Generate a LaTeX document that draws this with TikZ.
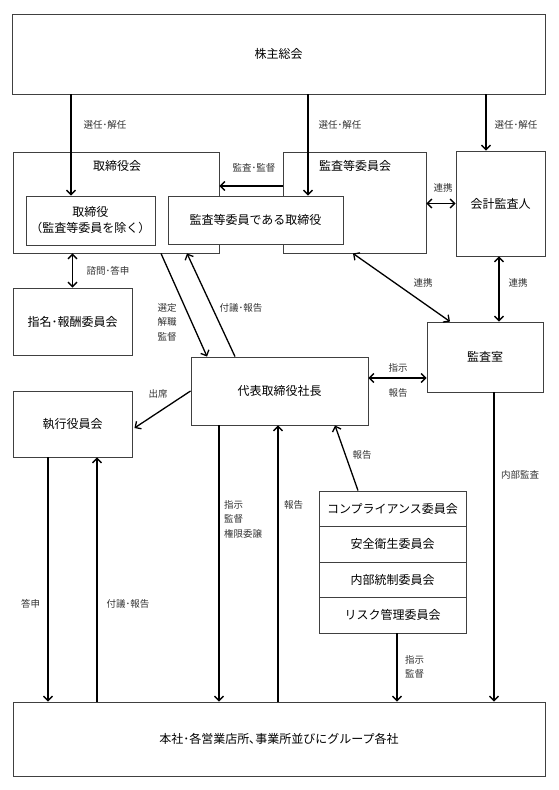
\documentclass[tikz,border=0pt]{standalone}
\usepackage{fontspec}
\setmainfont{Noto Sans CJK JP}
\usetikzlibrary{arrows.meta,calc}
\begin{document}
\begin{tikzpicture}[x=1pt,y=-1pt,
  box/.style={draw=black!75,line width=0.9pt,fill=white,inner sep=0pt,font=\fontsize{12}{16}\selectfont,align=center},
  ttl/.style={inner sep=0pt,font=\fontsize{12}{16}\selectfont},
  lbl/.style={inner sep=0pt,text=black!80,font=\fontsize{9.5}{14.5}\selectfont},
  arr/.style={line width=1.3pt,-{Straight Barb[length=4.5pt,width=9pt]}},
  darr/.style={line width=1.3pt,{Straight Barb[length=4.5pt,width=9pt]}-{Straight Barb[length=4.5pt,width=9pt]}},
  ln/.style={line width=1.3pt}]
\useasboundingbox (0,0) rectangle (558,790);
% boxes
\node[box,minimum width=533,minimum height=80] (agm) at (278.5,54) {株主総会};
\node[box,minimum width=206,minimum height=101,fill=none] (board) at (116,202.5) {};
\node[ttl] (boardlbl) at (117,166) {取締役会};
\node[box,minimum width=143,minimum height=101,fill=none] (acb) at (354.5,202.5) {};
\node[ttl] (acblbl) at (355,166) {監査等委員会};
\node[box,minimum width=129,minimum height=49] (dir) at (90.5,220.5) {取締役\\（監査等委員を除く）};
\node[box,minimum width=175,minimum height=48] (acd) at (255.5,220) {監査等委員である取締役};
\node[box,minimum width=89,minimum height=105] (ext) at (500.5,203.5) {会計監査人};
\node[box,minimum width=119,minimum height=67] (nom) at (72.5,321.5) {指名･報酬委員会};
\node[box,minimum width=177,minimum height=68] (ceo) at (279.5,391) {代表取締役社長};
\node[box,minimum width=116,minimum height=70] (audit) at (485,357) {監査室};
\node[box,minimum width=119,minimum height=66] (exec) at (72.5,424) {執行役員会};
\node[box,minimum width=147,minimum height=35.5] (com1) at (392.5,508.75) {コンプライアンス委員会};
\node[box,minimum width=147,minimum height=35.5] (com2) at (392.5,544.25) {安全衛生委員会};
\node[box,minimum width=147,minimum height=35.5] (com3) at (392.5,579.75) {内部統制委員会};
\node[box,minimum width=147,minimum height=35.5] (com4) at (392.5,615.25) {リスク管理委員会};
\node[box,minimum width=532,minimum height=74] (bot) at (279,739) {本社･各営業店所､事業所並びにグループ各社};
% helper coordinates
\coordinate (p1) at ($(dir.north)+(-19.5,0)$);
\coordinate (p2) at ($(acd.north)+(52.5,0)$);
\coordinate (p3) at ($(ext.north)+(-14.5,0)$);
\coordinate (p4) at ($(acb.west)+(0,-16.5)$);
\coordinate (p5) at ($(board.south)+(45,0)$);
\coordinate (p6) at ($(ceo.north)+(-72.5,0)$);
\coordinate (p7) at ($(ceo.north)+(-44.5,0)$);
\coordinate (p8) at ($(board.south)+(71,0)$);
\coordinate (p9) at ($(acb.south)+(-1.5,0)$);
\coordinate (p10) at ($(audit.north)+(-35,0)$);
\coordinate (p11) at ($(audit.north)+(14,0)$);
\coordinate (p12) at ($(ceo.east)+(0,-13)$);
\coordinate (p13) at ($(exec.east)+(2,4)$);
\coordinate (p14) at ($(exec.south)+(-24.5,0)$);
\coordinate (p15) at ($(exec.south)+(24.5,0)$);
\coordinate (p16) at ($(ceo.south)+(-60.5,0)$);
\coordinate (p17) at ($(ceo.south)+(-1.5,0)$);
\coordinate (p18) at ($(com1.north)+(-34.5,0)$);
\coordinate (p19) at ($(ceo.south)+(55.5,0)$);
\coordinate (p20) at ($(com4.south)+(4.5,0)$);
\coordinate (p21) at ($(audit.south)+(9,0)$);
% connectors
\draw[arr] (agm.south -| p1) -- (p1);
\draw[arr] (agm.south -| p2) -- (p2);
\draw[arr] (agm.south -| p3) -- (p3);
\draw[arr] (p4) -- (p4 -| board.east);
\draw[darr] (acb.east |- ext.west) -- (ext.west);
\draw[darr] (board.south -| nom.north) -- (nom.north);
\draw[arr] (p5) -- (p6);
\draw[arr] (p7) -- (p8);
\draw[darr] (p9) -- (p10);
\draw[darr] (ext.south -| p11) -- (p11);
\draw[darr] (p12) -- (p12 -| audit.west);
\draw[arr] (ceo.west) -- (p13);
\draw[arr] (p14) -- (bot.north -| p14);
\draw[arr] (bot.north -| p15) -- (p15);
\draw[arr] (p16) -- (bot.north -| p16);
\draw[arr] (bot.north -| p17) -- (p17);
\draw[arr] (p18) -- (p19);
\draw[arr] (p20) -- (bot.north -| p20);
\draw[arr] (p21) -- (bot.north -| p21);
% labels
\node[lbl] (l1) at (105,125) {選任･解任};
\node[lbl] (l2) at (340,125) {選任･解任};
\node[lbl] (l3) at (516,125) {選任･解任};
\node[lbl] (l4) at (254,168) {監査･監督};
\node[lbl] (l5) at (443,188) {連携};
\node[lbl] (l6) at (108,271) {諮問･答申};
\node[lbl,align=left] (l7) at (167,322) {選定\\解職\\監督};
\node[lbl] (l8) at (241,308) {付議･報告};
\node[lbl] (l9) at (423,283) {連携};
\node[lbl] (l10) at (518,283) {連携};
\node[lbl] (l11) at (398,368) {指示};
\node[lbl] (l12) at (398,393) {報告};
\node[lbl] (l13) at (158,394) {出席};
\node[lbl] (l14) at (520,475) {内部監査};
\node[lbl] (l15) at (362,455) {報告};
\node[lbl,align=left,anchor=west] (l16) at (224,519) {指示\\監督\\権限委譲};
\node[lbl,anchor=west] (l17) at (284,505) {報告};
\node[lbl] (l18) at (30.5,604) {答申};
\node[lbl] (l19) at (128,604) {付議･報告};
\node[lbl,align=left,anchor=west] (l20) at (405,667) {指示\\監督};
\end{tikzpicture}
\end{document}
